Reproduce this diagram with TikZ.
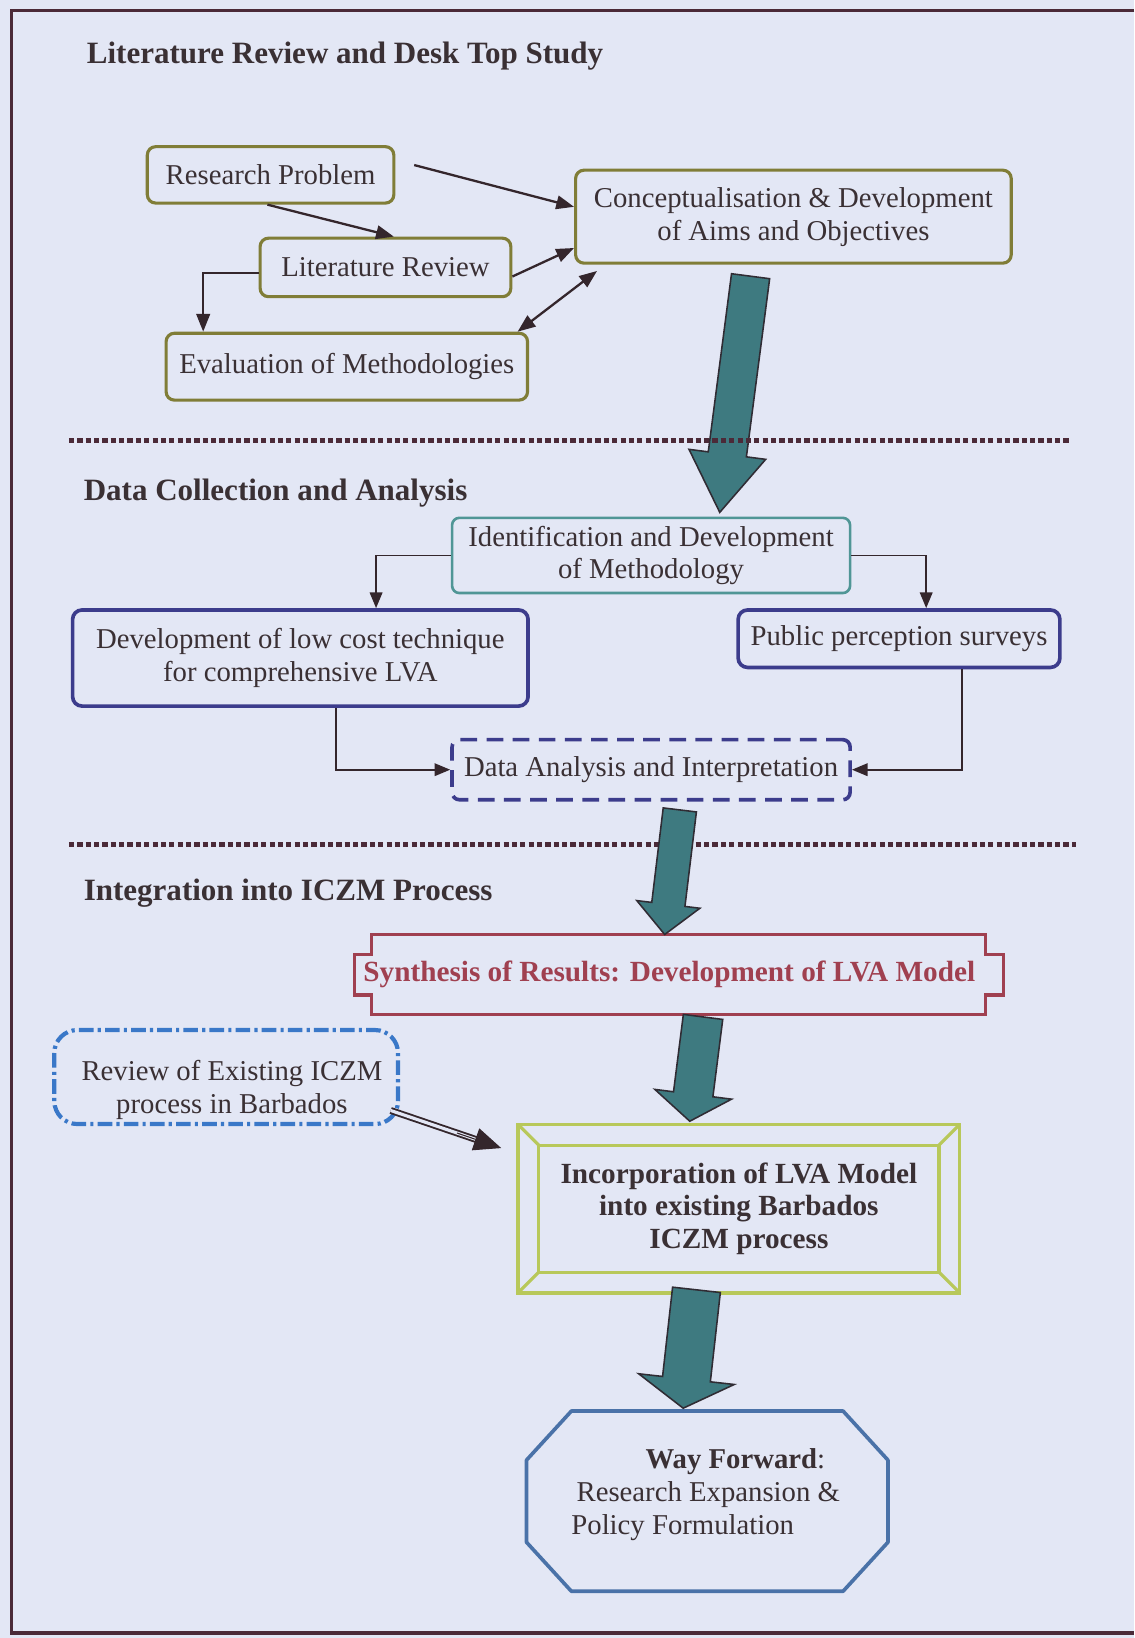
\documentclass[tikz,border=0pt]{standalone}
\usepackage{fontspec}
\setmainfont{Liberation Serif}
\usetikzlibrary{arrows.meta,calc}
\definecolor{bg}{RGB}{227,231,245}
\definecolor{framec}{RGB}{75,42,56}
\definecolor{olive}{RGB}{128,125,55}
\definecolor{ink}{RGB}{58,48,52}
\definecolor{arrowc}{RGB}{52,38,44}
\definecolor{tealf}{RGB}{62,122,128}
\definecolor{teald}{RGB}{48,44,52}
\definecolor{tealb}{RGB}{80,150,150}
\definecolor{navy}{RGB}{60,60,140}
\definecolor{synred}{RGB}{160,64,80}
\definecolor{revblue}{RGB}{58,120,200}
\definecolor{incgreen}{RGB}{184,200,90}
\definecolor{wfblue}{RGB}{74,114,168}
\newcommand{\tealarrow}[5]{%
  \coordinate (tah) at ($(#2)!#5!(#1)$);
  \filldraw[fill=tealf, draw=teald, line width=1.5pt, line join=miter]
    ($(#1)!#3!90:(#2)$) -- ($(tah)!#3!90:(#2)$) -- ($(tah)!#4!90:(#2)$) -- (#2)
    -- ($(tah)!#4!-90:(#2)$) -- ($(tah)!#3!-90:(#2)$) -- ($(#1)!#3!-90:(#2)$) -- cycle;}
\begin{document}
\begin{tikzpicture}[x=1pt,y=-1pt,
  txt/.style={font=\fontsize{27.5}{31.5}\selectfont, text=ink, align=center, inner sep=0pt},
  boldtxt/.style={txt, font=\fontsize{28}{31}\selectfont\bfseries},
  head/.style={font=\fontsize{29.7}{33}\selectfont\bfseries, text=ink, anchor=west, inner sep=0pt},
  obox/.style={txt, draw=olive, line width=3pt, rounded corners=8pt},
  nbox/.style={txt, draw=navy, line width=3.5pt, rounded corners=9pt},
  conn/.style={draw=arrowc, line width=2.2pt, -{Triangle[length=17pt,width=13pt]}},
  dconn/.style={draw=arrowc, line width=2.2pt, {Triangle[length=17pt,width=13pt]}-{Triangle[length=17pt,width=13pt]}},
  conn2/.style={draw=arrowc, line width=1.8pt, -{Triangle[length=15pt,width=12pt]}},
  sep/.style={draw=framec, line width=5pt, dash pattern=on 5pt off 3pt}]
\fill[bg] (0,0) rectangle (1086,1568);
\useasboundingbox (0,0) rectangle (1086,1568);
\draw[framec, line width=3.5pt] (1086,10) -- (11,10) -- (11,1563) -- (1086,1563);

% headings
\node[head] (h1) at (83,54) {Literature Review and Desk Top Study};
\node[head] (h2) at (80,472) {Data Collection and Analysis};
\node[head] (h3) at (80,855) {Integration into ICZM Process};

% section 1
\node[obox, minimum width=236pt, minimum height=54pt] (rp) at (259,167.4) {Research Problem};
\node[obox, minimum width=417pt, minimum height=89pt] (concept) at (759.5,207.4) {Conceptualisation \& Development\\of Aims and Objectives};
\node[obox, minimum width=240pt, minimum height=56pt] (lr) at (369,256) {Literature Review};
\node[obox, minimum width=346pt, minimum height=64pt] (eval) at (332,351) {Evaluation of Methodologies};

\draw[conn] ([xshift=18pt,yshift=9.4pt]rp.east) -- ([yshift=9.4pt]concept.west);
\draw[conn] ([xshift=-3pt]rp.south) -- ([xshift=8pt]lr.north);
\draw[conn] ([yshift=-8.7pt]lr.east) -- ([yshift=-30pt]concept.west);
\draw[dconn] ([xshift=-11pt]eval.north east) -- ([xshift=22pt,yshift=-6pt]concept.south west);
\draw[conn] ([yshift=-5.6pt]lr.west) -| ([xshift=37pt]eval.north west);

% section 2
\node[txt, draw=tealb, line width=2.5pt, rounded corners=7pt, minimum width=381pt, minimum height=72pt] (ident) at (623.25,531.7) {Identification and Development\\of Methodology};
\node[nbox, minimum width=436pt, minimum height=92pt] (dev) at (287.5,629.9) {Development of low cost technique\\for comprehensive LVA};
\node[nbox, minimum width=308pt, minimum height=55pt] (pub) at (860.6,611.4) {Public perception surveys};
\node[txt, draw=navy, line width=3.5pt, dash pattern=on 16pt off 9pt, rounded corners=7pt, minimum width=381pt, minimum height=57.5pt] (data) at (623.25,736.8) {Data Analysis and Interpretation};

\draw[conn2] (ident.west) -| ([xshift=72.5pt]dev.north);
\draw[conn2] (ident.east) -| ([xshift=26pt]pub.north);
\draw[conn2] ([xshift=34.5pt]dev.south) |- (data.west);
\draw[conn2] ([xshift=60.4pt]pub.south) |- (data.east);

% section 3
\node[boldtxt, text=synred, minimum width=620.6pt, minimum height=76.5pt] (synth) at (649.7,933) {Synthesis of Results: Development of LVA Model\hspace*{18pt}};
\draw[synred, line width=3pt]
  ([xshift=16.5pt]synth.north west) -- ([xshift=-16.5pt]synth.north east) -- ++(0,19) -- ++(16.5,0)
  -- ([yshift=19pt]synth.south east) -- ++(-16.5,0) -- ++(0,19)
  -- ([xshift=16.5pt]synth.south west) -- ++(0,-19) -- ++(-16.5,0)
  -- ([yshift=-19pt]synth.north west) -- ++(16.5,0) -- cycle;

\node[txt] (rev) at (222,1043) {Review of Existing ICZM\\process in Barbados};
\draw[revblue, line width=4pt, dash pattern=on 14pt off 4pt on 3pt off 4pt, rounded corners=22pt]
  ($(rev.center)+(-170,-57)$) rectangle ($(rev.center)+(159,33)$);

\node[boldtxt, minimum width=422.6pt, minimum height=161pt] (inc) at (707.3,1157) {Incorporation of LVA Model\\into existing Barbados\\ICZM process};
\draw[incgreen, line width=3pt] (inc.north west) rectangle (inc.south east);
\draw[incgreen, line width=3pt] ([shift={(20pt,-20pt)}]inc.north west) rectangle ([shift={(-20pt,20pt)}]inc.south east);
\draw[incgreen, line width=3pt] (inc.north west) -- ++(20,20);
\draw[incgreen, line width=3pt] (inc.north east) -- ++(-20,20);
\draw[incgreen, line width=3pt] (inc.south west) -- ++(20,-20);
\draw[incgreen, line width=3pt] (inc.south east) -- ++(-20,-20);

\coordinate (d1) at ($(rev.center)+(152,20)$);
\coordinate (d2) at ([xshift=-16pt,yshift=58pt]inc.west);
\draw[arrowc, line width=1.8pt, double=bg, double distance=3pt, shorten >=20pt] (d1) -- (d2);
\draw[arrowc, line width=1pt, -{Triangle[length=26pt,width=22pt]}] ($(d1)!0.6!(d2)$) -- (d2);

\node[txt, align=left] (wf) at (675.5,1431) {\hspace*{71pt}\textbf{Way Forward}:\\\hspace*{5pt}Research Expansion \&\\Policy Formulation};
\coordinate (wfc) at (677,1437);
\draw[wfblue, line width=3.5pt, line join=round]
  ($(wfc)+(-130,-86.3)$) -- ($(wfc)+(130,-86.3)$) -- ($(wfc)+(173,-39.3)$)
  -- ($(wfc)+(173,39.3)$) -- ($(wfc)+(130,86.3)$) -- ($(wfc)+(-130,86.3)$)
  -- ($(wfc)+(-173,39.3)$) -- ($(wfc)+(-173,-39.3)$) -- cycle;

% big teal arrows
\coordinate (a1s) at ($(concept.south)+(-41,11)$);
\coordinate (a1t) at ($(ident.north)+(65.75,-4)$);
\tealarrow{a1s}{a1t}{18.4pt}{37pt}{56pt}
\draw[sep] (66,422) -- (1025,422);
\draw[sep] (66,808.6) -- (1030,808.6);
\coordinate (a2s) at ($(data.south)+(27.5,8)$);
\coordinate (a2t) at ($(synth.north)+(-13.4,0)$);
\tealarrow{a2s}{a2t}{16pt}{30.4pt}{29pt}
\coordinate (a3s) at ($(synth.south)+(23.3,2)$);
\coordinate (a3t) at ($(inc.north)+(-47,-3)$);
\tealarrow{a3s}{a3t}{19pt}{37pt}{26pt}
\coordinate (a4s) at ($(inc.south)+(-40.6,-3)$);
\coordinate (a4t) at ($(wfc)+(-23,-89)$);
\tealarrow{a4s}{a4t}{23pt}{46pt}{28pt}
\end{tikzpicture}
\end{document}
